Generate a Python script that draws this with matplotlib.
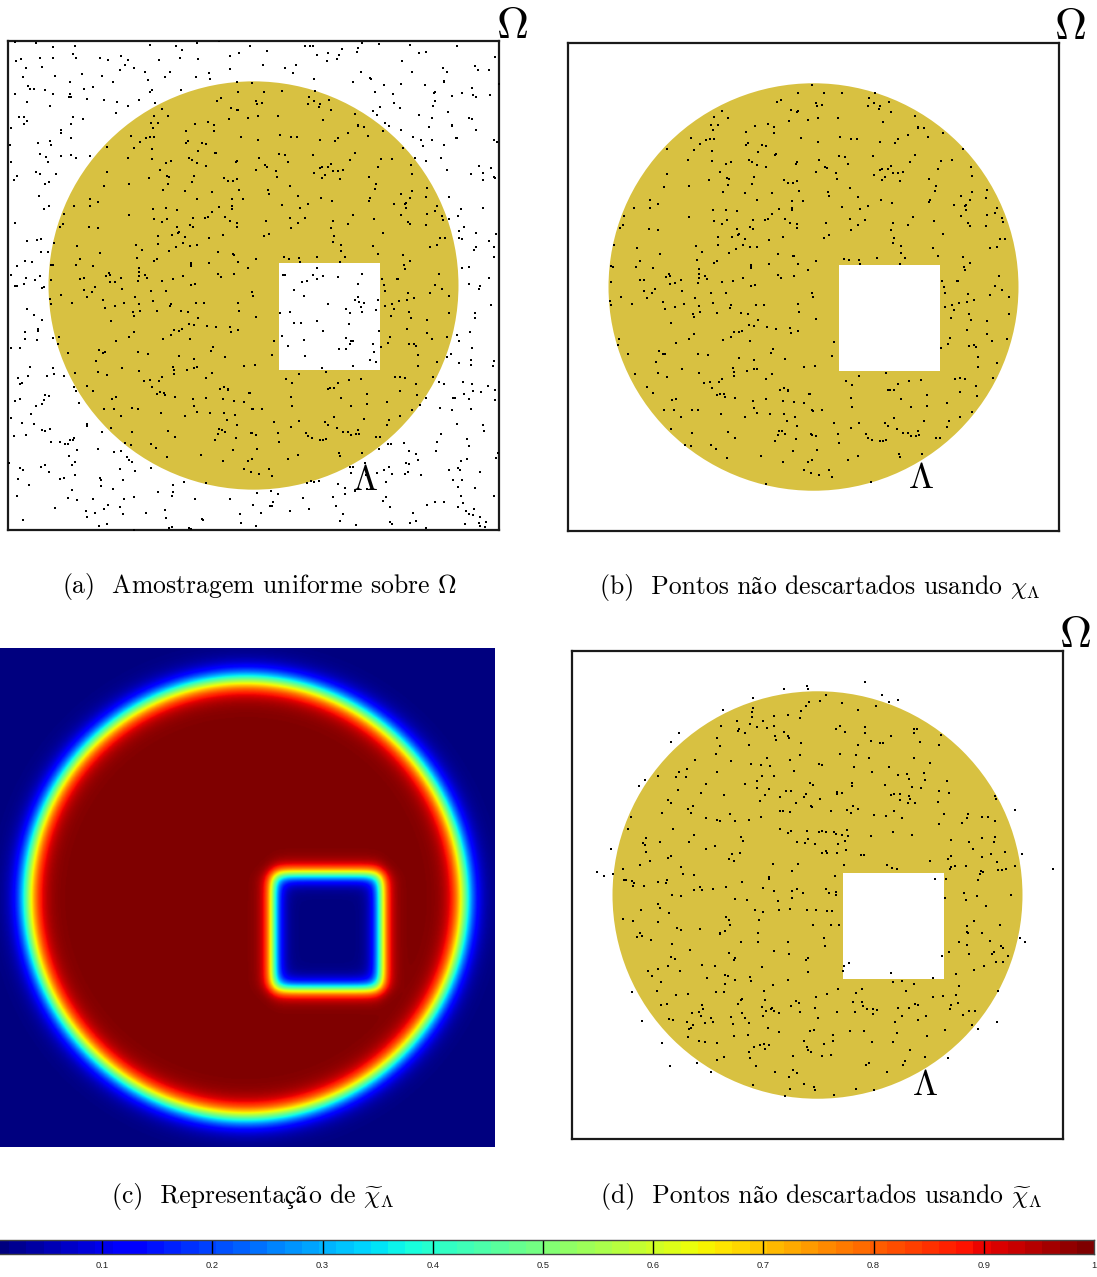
import numpy as np
import matplotlib
matplotlib.use("Agg")
import matplotlib.pyplot as plt
from matplotlib.patches import Circle, Rectangle

plt.rcParams['mathtext.fontset'] = 'cm'

# ---------------- data ----------------
CIRCLE_CENTER = (0.0, 0.0)
CIRCLE_RADIUS = 0.835
HOLE_X = (0.104, 0.515)
HOLE_Y = (-0.346, 0.092)
EPS_CIRCLE = 0.052
EPS_HOLE = 0.035
N_SAMPLES = 1050
CBAR_TICKS = [0.1, 0.2, 0.3, 0.4, 0.5, 0.6, 0.7, 0.8, 0.9, 1.0]
CBAR_LABELS = ["0.1", "0.2", "0.3", "0.4", "0.5", "0.6", "0.7", "0.8", "0.9", "1"]
# captions split so that accented letters come from a font that has them
CAPTIONS = [
    [("(a)  Amostragem uniforme sobre $\\Omega$", "cm")],
    [("(b)  Pontos n", "cm"), ("ã", "acc"), ("o descartados usando $\\chi_\\Lambda$", "cm")],
    [("(c)  Representa", "cm"), ("çã", "acc"), ("o de $\\widetilde{\\chi}_\\Lambda$", "cm")],
    [("(d)  Pontos n", "cm"), ("ã", "acc"), ("o descartados usando $\\widetilde{\\chi}_\\Lambda$", "cm")],
]
GOLD = "#D8C141"

# uniform Monte-Carlo samples over Omega (the figure illustrates random sampling)
rng = np.random.default_rng(7)
pts_a = rng.uniform(-1, 1, size=(N_SAMPLES, 2))
pts_d = rng.uniform(-1, 1, size=(N_SAMPLES, 2))
u_d = rng.uniform(0, 1, size=N_SAMPLES)


def S(t):
    return 0.5 * (1 + np.tanh(t))


def chi_sharp(x, y):
    r = np.hypot(x - CIRCLE_CENTER[0], y - CIRCLE_CENTER[1])
    inside = r <= CIRCLE_RADIUS
    hole = (x >= HOLE_X[0]) & (x <= HOLE_X[1]) & (y >= HOLE_Y[0]) & (y <= HOLE_Y[1])
    return inside & ~hole


def chi_smooth(x, y):
    r = np.hypot(x - CIRCLE_CENTER[0], y - CIRCLE_CENTER[1])
    c = S((CIRCLE_RADIUS - r) / EPS_CIRCLE)
    h = (S((x - HOLE_X[0]) / EPS_HOLE) * S((HOLE_X[1] - x) / EPS_HOLE) *
         S((y - HOLE_Y[0]) / EPS_HOLE) * S((HOLE_Y[1] - y) / EPS_HOLE))
    return c * (1 - h)


W, H = 1097, 1277
fig = plt.figure(figsize=(W / 100, H / 100), dpi=100)


def ax_px(x0, y0, x1, y1):
    return fig.add_axes([x0 / W, 1 - y1 / H, (x1 - x0) / W, (y1 - y0) / H])


def domain_panel(box, pts, omega_xy, lam_xy):
    ax = ax_px(*box)
    ax.set_xlim(-1, 1)
    ax.set_ylim(-1, 1)
    ax.set_xticks([])
    ax.set_yticks([])
    for s in ax.spines.values():
        s.set_linewidth(1.6)
        s.set_color("#1a1a1a")
    ax.add_patch(Circle(CIRCLE_CENTER, CIRCLE_RADIUS, fc=GOLD, ec="none", zorder=1))
    ax.add_patch(Rectangle((HOLE_X[0], HOLE_Y[0]), HOLE_X[1] - HOLE_X[0],
                           HOLE_Y[1] - HOLE_Y[0], fc="white", ec="none", zorder=2))
    ax.scatter(pts[:, 0], pts[:, 1], s=2.2, marker="s", c="black", linewidths=0, zorder=3)
    ax.text(*omega_xy, r"$\Omega$", fontsize=32, ha="center", va="center", clip_on=False)
    ax.text(*lam_xy, r"$\Lambda$", fontsize=26, ha="center", va="center", zorder=4)
    return ax


# (a)
domain_panel((8, 41, 499, 530), pts_a, (1.053, 1.065), (0.454, -0.796))
# (b)
keep_b = chi_sharp(pts_a[:, 0], pts_a[:, 1])
domain_panel((568, 43, 1059, 531), pts_a[keep_b], (1.045, 1.066), (0.438, -0.783))
# (d)
keep_d = u_d < chi_smooth(pts_d[:, 0], pts_d[:, 1])
domain_panel((572, 651, 1063, 1139), pts_d[keep_d], (1.049, 1.066), (0.438, -0.779))

# (c) smoothed characteristic function
axc = ax_px(0, 648, 495, 1147)
x0c, x1c, y0c, y1c = -0.938, 0.949, -0.949, 0.953
gx = np.linspace(x0c, x1c, 600)
gy = np.linspace(y0c, y1c, 600)
XX, YY = np.meshgrid(gx, gy)
axc.imshow(chi_smooth(XX, YY), cmap="jet", vmin=0, vmax=1, origin="lower",
           extent=[x0c, x1c, y0c, y1c], aspect="auto", interpolation="bilinear")
axc.set_axis_off()

# captions
FAMS = {"cm": ["cmr10"], "acc": ["STIXGeneral"]}
CAP_SIZE = 18.5
cap_pos = [(260, 593), (820, 594), (253, 1203), (822, 1203)]
renderer = fig.canvas.get_renderer()
for (cx, cy), pieces in zip(cap_pos, CAPTIONS):
    texts = [fig.text(0, 1 - cy / H, s, fontsize=CAP_SIZE, family=FAMS[f],
                      ha="left", va="baseline") for s, f in pieces]
    widths = [t.get_window_extent(renderer).width for t in texts]
    x = cx - sum(widths) / 2
    for t, w in zip(texts, widths):
        t.set_x(x / W)
        x += w

# colorbar
axb = ax_px(-8, 1240, 1094, 1254)
grad = np.linspace(0, 1, 64)[None, :]
axb.imshow(grad, cmap="jet", vmin=0, vmax=1, extent=[0, 1, 0, 1], aspect="auto",
           interpolation="nearest")
axb.set_xlim(0, 1)
axb.set_ylim(0, 1)
for t in CBAR_TICKS[:-1]:
    axb.axvline(t, color="black", lw=1.0)
axb.set_yticks([])
axb.set_xticks(CBAR_TICKS)
axb.set_xticklabels(CBAR_LABELS, fontsize=6.7, family="Liberation Sans", color="#222222")
axb.tick_params(axis="x", length=0, pad=5)
for s in axb.spines.values():
    s.set_linewidth(1.0)
    s.set_color("#444444")

fig.savefig("out.png", dpi=100)
